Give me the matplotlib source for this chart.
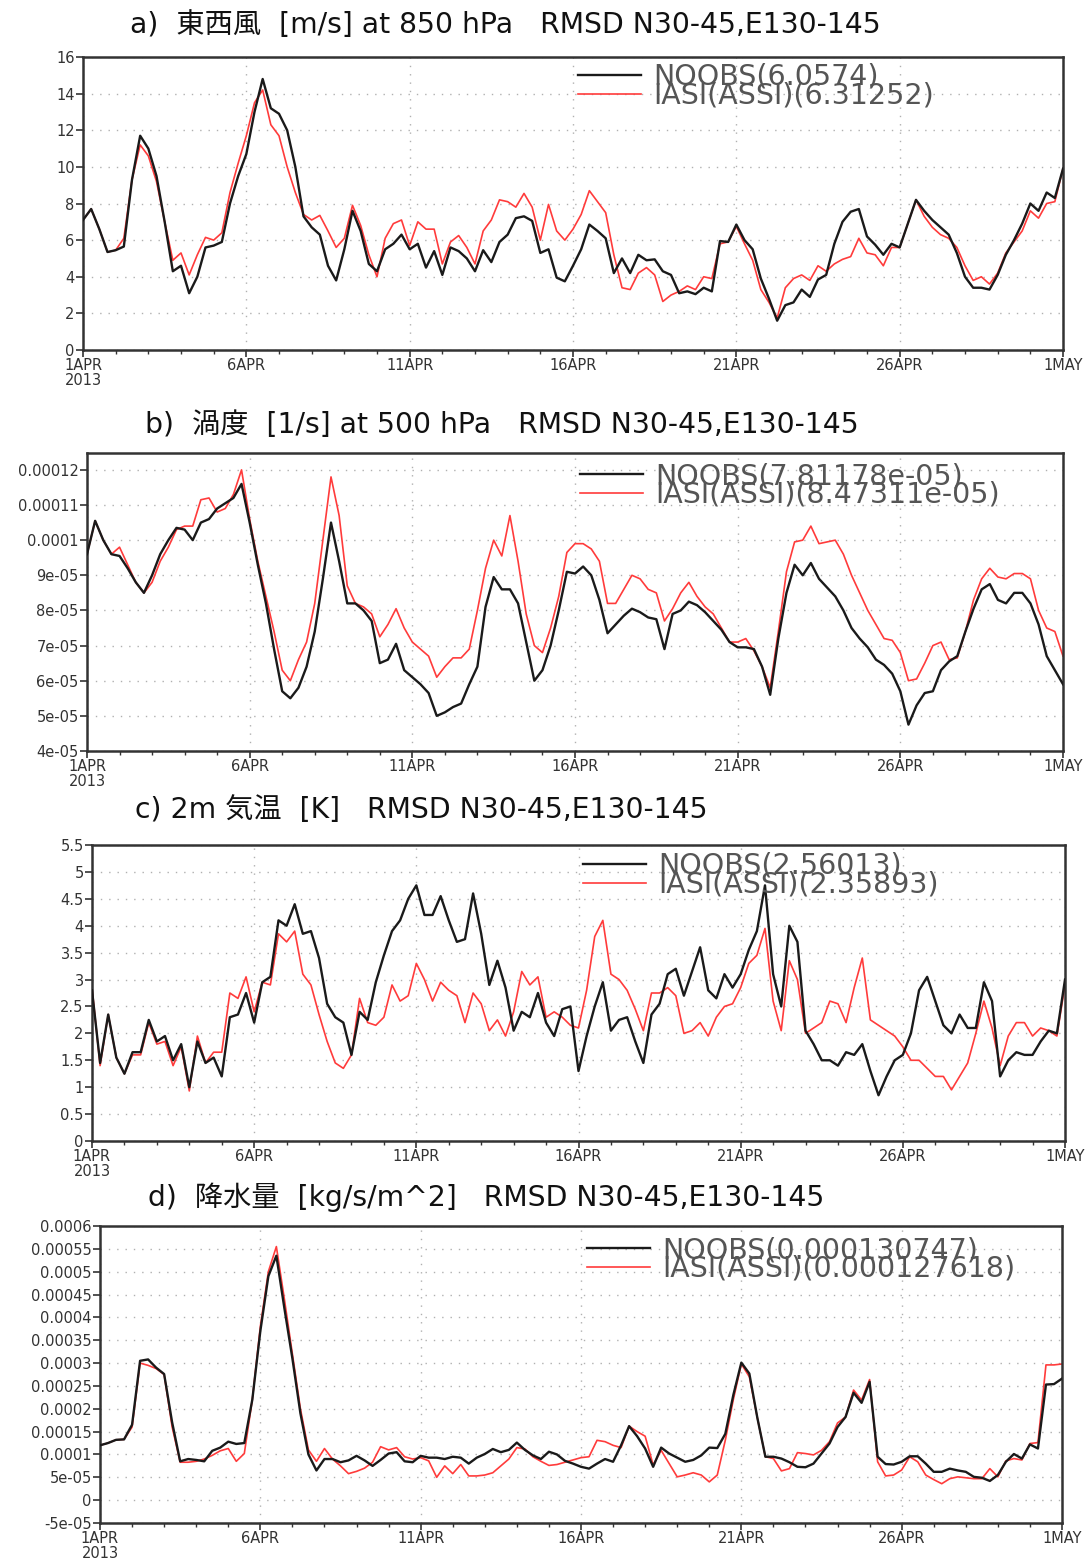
import numpy as np
import matplotlib
matplotlib.use("Agg")
import matplotlib.pyplot as plt
from matplotlib.ticker import FuncFormatter, MultipleLocator

plt.rcParams['font.family'] = ['DejaVu Sans']

# 6-hourly steps from 1APR 00Z to 1MAY 00Z (121 points)
days = np.arange(121) * 0.25
tick_days = [0, 5, 10, 15, 20, 25, 30]
tick_labels = ["1APR\n2013", "6APR", "11APR", "16APR", "21APR", "26APR", "1MAY"]

# a) zonal wind 850 hPa
u_noobs = [7.1, 7.7, 6.6, 5.35, 5.45, 5.65, 9.3, 11.7, 11.0, 9.5, 7.0, 4.3, 4.6, 3.1, 4.0, 5.6, 5.7, 5.9, 8.0, 9.5,
           10.7, 13.0, 14.8, 13.2, 12.9, 12.0, 10.0, 7.3, 6.7, 6.3, 4.6, 3.8, 5.5, 7.6, 6.5, 4.7, 4.3, 5.5, 5.8, 6.3,
           5.5, 5.8, 4.5, 5.4, 4.1, 5.6, 5.4, 5.0, 4.3, 5.45, 4.8, 5.9, 6.3, 7.2, 7.3, 7.05, 5.3, 5.5, 3.95, 3.75,
           4.6, 5.5, 6.85, 6.5, 6.1, 4.2, 5.0, 4.2, 5.2, 4.9, 4.95, 4.3, 4.1, 3.1, 3.2, 3.05, 3.4, 3.2, 5.95, 5.9,
           6.85, 6.0, 5.5, 3.9, 2.8, 1.6, 2.45, 2.6, 3.3, 2.9, 3.85, 4.1, 5.8, 7.0, 7.55, 7.7, 6.2, 5.75, 5.2, 5.8,
           5.6, 6.9, 8.2, 7.6, 7.1, 6.7, 6.3, 5.3, 4.0, 3.4, 3.4, 3.3, 4.1, 5.2, 6.0, 6.9, 8.0, 7.6, 8.6, 8.3, 9.9]
u_iasi = [7.1, 7.7, 6.6, 5.35, 5.45, 6.1, 9.3, 11.2, 10.6, 9.2, 7.0, 4.9, 5.3, 4.1, 5.2, 6.15, 6.0, 6.4, 8.6, 10.2,
          11.7, 13.5, 14.2, 12.3, 11.7, 10.0, 8.6, 7.4, 7.1, 7.35, 6.5, 5.6, 6.1, 7.9, 6.8, 5.2, 4.0, 6.1, 6.9, 7.1,
          5.7, 7.0, 6.6, 6.6, 4.7, 5.9, 6.25, 5.6, 4.7, 6.5, 7.1, 8.2, 8.1, 7.8, 8.55, 7.8, 6.0, 7.95, 6.5, 6.0,
          6.6, 7.4, 8.7, 8.1, 7.5, 5.2, 3.4, 3.3, 4.2, 4.5, 4.1, 2.65, 3.0, 3.2, 3.5, 3.3, 4.0, 3.9, 5.8, 5.9,
          6.75, 5.8, 4.9, 3.3, 2.6, 1.75, 3.4, 3.9, 4.1, 3.8, 4.6, 4.3, 4.7, 4.95, 5.1, 6.1, 5.3, 5.2, 4.6, 5.6,
          5.6, 6.9, 8.2, 7.3, 6.7, 6.3, 6.1, 5.6, 4.6, 3.8, 4.0, 3.6, 4.2, 5.3, 5.9, 6.5, 7.6, 7.2, 8.0, 8.1, 9.9]

# b) vorticity 500 hPa (units of 1e-5 /s)
vor_noobs = [9.6, 10.55, 10.0, 9.6, 9.55, 9.2, 8.8, 8.5, 9.0, 9.6, 10.0, 10.35, 10.3, 10.0, 10.5, 10.6, 10.9, 11.05,
             11.2, 11.6, 10.5, 9.3, 8.2, 6.9, 5.7, 5.5, 5.8, 6.4, 7.4, 8.9, 10.5, 9.4, 8.2, 8.2, 8.0, 7.7, 6.5, 6.6,
             7.05, 6.3, 6.1, 5.9, 5.65, 5.0, 5.1, 5.25, 5.35, 5.9, 6.4, 8.1, 8.95, 8.6, 8.6, 8.2, 7.1, 6.0, 6.3, 7.0,
             8.0, 9.1, 9.05, 9.25, 9.0, 8.3, 7.35, 7.6, 7.85, 8.05, 7.95, 7.8, 7.75, 6.9, 7.9, 8.0, 8.25, 8.15, 7.95,
             7.7, 7.45, 7.1, 6.95, 6.95, 6.9, 6.4, 5.6, 7.2, 8.5, 9.3, 9.0, 9.35, 8.9, 8.65, 8.4, 8.0, 7.5, 7.2, 6.95,
             6.6, 6.45, 6.2, 5.7, 4.75, 5.3, 5.65, 5.7, 6.3, 6.55, 6.7, 7.4, 8.05, 8.6, 8.75, 8.3, 8.2, 8.5, 8.5,
             8.2, 7.6, 6.7, 6.3, 5.9]
vor_iasi = [9.6, 10.55, 10.0, 9.6, 9.8, 9.3, 8.8, 8.5, 8.8, 9.4, 9.8, 10.3, 10.4, 10.4, 11.15, 11.2, 10.8, 10.9,
            11.3, 12.0, 10.6, 9.4, 8.4, 7.4, 6.3, 6.0, 6.6, 7.1, 8.2, 10.0, 11.8, 10.7, 8.7, 8.2, 8.1, 7.9, 7.25,
            7.6, 8.05, 7.5, 7.1, 6.9, 6.7, 6.1, 6.4, 6.65, 6.65, 6.9, 8.0, 9.2, 10.0, 9.55, 10.7, 9.4, 7.9, 7.0, 6.8,
            7.5, 8.4, 9.65, 9.9, 9.9, 9.75, 9.4, 8.2, 8.2, 8.6, 9.0, 8.9, 8.6, 8.5, 7.7, 8.05, 8.5, 8.8, 8.4, 8.1,
            7.9, 7.5, 7.1, 7.1, 7.2, 6.85, 6.4, 5.8, 7.4, 9.1, 9.95, 10.0, 10.4, 9.9, 9.95, 10.0, 9.6, 9.0, 8.5, 8.0,
            7.6, 7.2, 7.15, 6.8, 6.0, 6.05, 6.5, 7.0, 7.1, 6.6, 6.65, 7.4, 8.3, 8.9, 9.2, 8.95, 8.9, 9.05, 9.05,
            8.9, 8.0, 7.5, 7.4, 6.7]

# c) 2m temperature
t2_noobs = [2.8, 1.45, 2.35, 1.55, 1.25, 1.65, 1.65, 2.25, 1.85, 1.95, 1.5, 1.8, 1.0, 1.85, 1.45, 1.55, 1.2, 2.3,
            2.35, 2.75, 2.2, 2.95, 3.05, 4.1, 4.0, 4.4, 3.85, 3.9, 3.4, 2.55, 2.3, 2.2, 1.6, 2.4, 2.25, 2.95, 3.45,
            3.9, 4.1, 4.5, 4.75, 4.2, 4.2, 4.55, 4.1, 3.7, 3.75, 4.6, 3.85, 2.9, 3.35, 2.85, 2.05, 2.4, 2.3, 2.75,
            2.2, 1.95, 2.45, 2.5, 1.3, 1.95, 2.5, 2.95, 2.05, 2.25, 2.3, 1.85, 1.45, 2.35, 2.55, 3.1, 3.2, 2.7, 3.15,
            3.6, 2.8, 2.65, 3.1, 2.85, 3.1, 3.55, 3.9, 4.75, 3.1, 2.5, 4.0, 3.7, 2.05, 1.8, 1.5, 1.5, 1.4, 1.65, 1.6,
            1.8, 1.3, 0.85, 1.2, 1.5, 1.6, 2.0, 2.8, 3.05, 2.6, 2.15, 2.0, 2.35, 2.1, 2.1, 2.95, 2.6, 1.2, 1.5,
            1.65, 1.6, 1.6, 1.85, 2.05, 2.0, 3.0]
t2_iasi = [2.85, 1.4, 2.35, 1.55, 1.25, 1.6, 1.6, 2.2, 1.8, 1.85, 1.4, 1.75, 0.93, 1.95, 1.45, 1.65, 1.65, 2.75,
           2.65, 3.05, 2.4, 2.95, 2.9, 3.85, 3.7, 3.9, 3.1, 2.9, 2.35, 1.85, 1.45, 1.35, 1.6, 2.65, 2.2, 2.15, 2.3,
           2.9, 2.6, 2.7, 3.3, 3.0, 2.6, 2.95, 2.8, 2.7, 2.2, 2.75, 2.55, 2.05, 2.25, 1.95, 2.4, 3.15, 2.9, 3.05,
           2.3, 2.4, 2.3, 2.15, 2.1, 2.8, 3.8, 4.1, 3.1, 3.0, 2.8, 2.45, 2.05, 2.75, 2.75, 2.85, 2.7, 2.0, 2.05,
           2.2, 1.95, 2.3, 2.5, 2.55, 2.85, 3.3, 3.45, 3.95, 2.6, 2.05, 3.35, 3.0, 2.0, 2.1, 2.2, 2.6, 2.55, 2.2,
           2.85, 3.4, 2.25, 2.15, 2.05, 1.95, 1.75, 1.5, 1.5, 1.35, 1.2, 1.2, 0.95, 1.2, 1.45, 2.0, 2.6, 2.1, 1.4,
           1.95, 2.2, 2.2, 1.95, 2.1, 2.05, 1.95, 2.9]

# d) precipitation (units of 1e-5 kg/s/m^2)
pr_noobs = [12, 12.5, 13.2, 13.3, 16.5, 30.5, 30.8, 29, 27.6, 17, 8.5, 9.0, 8.8, 8.5, 10.8, 11.5, 12.8, 12.3, 12.5,
            22, 37, 49, 53.5, 42, 31, 19, 10, 6.5, 9.0, 9.0, 8.3, 8.7, 9.7, 8.7, 7.5, 8.8, 10.2, 10.5, 8.5, 8.3,
            9.7, 9.3, 9.3, 9.0, 9.5, 9.3, 8.0, 9.3, 10.1, 11.2, 10.5, 11.0, 12.6, 11.0, 9.8, 9.0, 10.6, 10.0, 8.6,
            8.0, 7.3, 6.9, 8.0, 9.0, 8.4, 12.0, 16.2, 14.0, 11.3, 7.3, 11.5, 10.2, 9.3, 8.4, 8.8, 9.8, 11.5, 11.4,
            14.5, 23, 30.1, 27.7, 18, 9.5, 9.5, 9.1, 8.3, 7.3, 7.2, 8.0, 10.2, 12.4, 16.0, 18.2, 23.5, 21.3, 25.9,
            9.5, 7.9, 7.8, 8.4, 9.6, 9.6, 8.0, 6.2, 6.2, 6.9, 6.5, 6.2, 5.1, 4.9, 4.2, 5.5, 8.4, 10.1, 9.1, 12.2,
            11.3, 25.3, 25.4, 26.6]
pr_iasi = [12, 12.5, 13.2, 13.3, 16, 30, 29.5, 28.8, 27.5, 16, 8.3, 8.3, 8.5, 9.0, 9.8, 10.8, 11.3, 8.5, 10.2,
           22, 38, 50, 55.5, 44, 32, 20, 11, 8.5, 11.3, 9.0, 7.5, 5.8, 6.3, 7.0, 8.3, 11.7, 11.0, 11.5, 9.5, 9.0,
           9.3, 8.6, 5.0, 7.5, 5.8, 7.8, 5.3, 5.3, 5.5, 6.0, 7.5, 9.0, 11.5, 11.2, 9.5, 8.5, 7.6, 7.8, 8.3, 8.8,
           9.3, 9.5, 13.1, 12.8, 12.0, 11.5, 16.2, 15.0, 14.0, 7.7, 10.9, 8.0, 5.1, 5.5, 6.0, 5.5, 4.0, 5.5, 13.1,
           22, 29.8, 27.0, 18, 9.5, 9.1, 6.4, 6.9, 10.4, 10.2, 9.9, 10.9, 12.8, 16.9, 18.2, 24.1, 21.9, 26.4, 8.4,
           5.3, 5.5, 6.6, 9.5, 8.4, 5.5, 4.5, 3.6, 4.7, 5.1, 4.9, 4.7, 4.7, 6.9, 5.1, 8.6, 9.1, 8.8, 12.4, 12.6,
           29.6, 29.6, 29.8]

panels = [
    dict(title="a)  東西風  [m/s] at 850 hPa   RMSD N30-45,E130-145",
         noobs=np.array(u_noobs), iasi=np.array(u_iasi),
         rmsd=("6.0574", "6.31252"), ylim=(0, 16), ystep=2,
         box=(83, 57, 1063, 350), title_xy=(130, 25), leg=(578, 77)),
    dict(title="b)  渦度  [1/s] at 500 hPa   RMSD N30-45,E130-145",
         noobs=np.array(vor_noobs) * 1e-5, iasi=np.array(vor_iasi) * 1e-5,
         rmsd=("7.81178e-05", "8.47311e-05"), ylim=(4e-5, 1.248e-4), ystep=1e-5,
         box=(87, 453, 1063, 751), title_xy=(145, 425), leg=(580, 476)),
    dict(title="c) 2m 気温  [K]   RMSD N30-45,E130-145",
         noobs=np.array(t2_noobs), iasi=np.array(t2_iasi),
         rmsd=("2.56013", "2.35893"), ylim=(0, 5.5), ystep=0.5,
         box=(92, 845, 1065, 1141), title_xy=(135, 810), leg=(583, 866)),
    dict(title="d)  降水量  [kg/s/m^2]   RMSD N30-45,E130-145",
         noobs=np.array(pr_noobs) * 1e-5, iasi=np.array(pr_iasi) * 1e-5,
         rmsd=("0.000130747", "0.000127618"), ylim=(-5e-5, 6e-4), ystep=5e-5,
         box=(100, 1226, 1062, 1523), title_xy=(148, 1197), leg=(587, 1250)),
]

W, H = 1090, 1560
fig = plt.figure(figsize=(W / 100, H / 100), dpi=100)
fig.patch.set_facecolor("white")

def g_fmt(v, pos):
    return format(round(v, 9), "g")

for p in panels:
    l, t, r, b = p["box"]
    ax = fig.add_axes([l / W, 1 - b / H, (r - l) / W, (b - t) / H])
    ax.plot(days, p["noobs"], color="#1a1a1a", lw=1.7, label="NOOBS(%s)" % p["rmsd"][0], zorder=3)
    ax.plot(days, p["iasi"], color="#ff3b3b", lw=1.2, label="IASI(ASSI)(%s)" % p["rmsd"][1], zorder=2)

    ax.set_xlim(0, 30)
    ax.set_xticks(tick_days)
    ax.set_xticklabels(tick_labels)
    ax.xaxis.set_minor_locator(MultipleLocator(1))
    ax.yaxis.set_major_locator(MultipleLocator(p["ystep"]))
    ax.yaxis.set_major_formatter(FuncFormatter(g_fmt))
    ax.set_ylim(*p["ylim"])

    ax.grid(True, which="major", color="#b0b0b0", linestyle=(0, (1, 5)), lw=1.0)
    for s in ax.spines.values():
        s.set_color("#333333")
        s.set_linewidth(1.8)
    ax.tick_params(axis="both", which="major", direction="out", length=5, width=1.2,
                   colors="#333333", labelsize=10.5, pad=1)
    ax.tick_params(axis="x", which="minor", direction="out", length=3, width=1.0, colors="#333333")
    for lab in ax.get_xticklabels():
        lab.set_linespacing(0.95)

    # legend: first row centred at the reference pixel height
    lx, ly = p["leg"]
    ax.legend(loc="upper left",
              bbox_to_anchor=((lx - l) / (r - l), 1 - (ly - t - 14) / (b - t)),
              frameon=False, fontsize=20.5, handlelength=2.2, handletextpad=0.45,
              labelspacing=-0.33, borderpad=0, borderaxespad=0,
              labelcolor="#555555")

    fig.text(p["title_xy"][0] / W, 1 - p["title_xy"][1] / H, p["title"],
             fontsize=20.3, va="center", ha="left",
             family=["DejaVu Sans", "Noto Sans CJK JP"], color="#111111")

fig.savefig("out.png", dpi=100, facecolor="white")
